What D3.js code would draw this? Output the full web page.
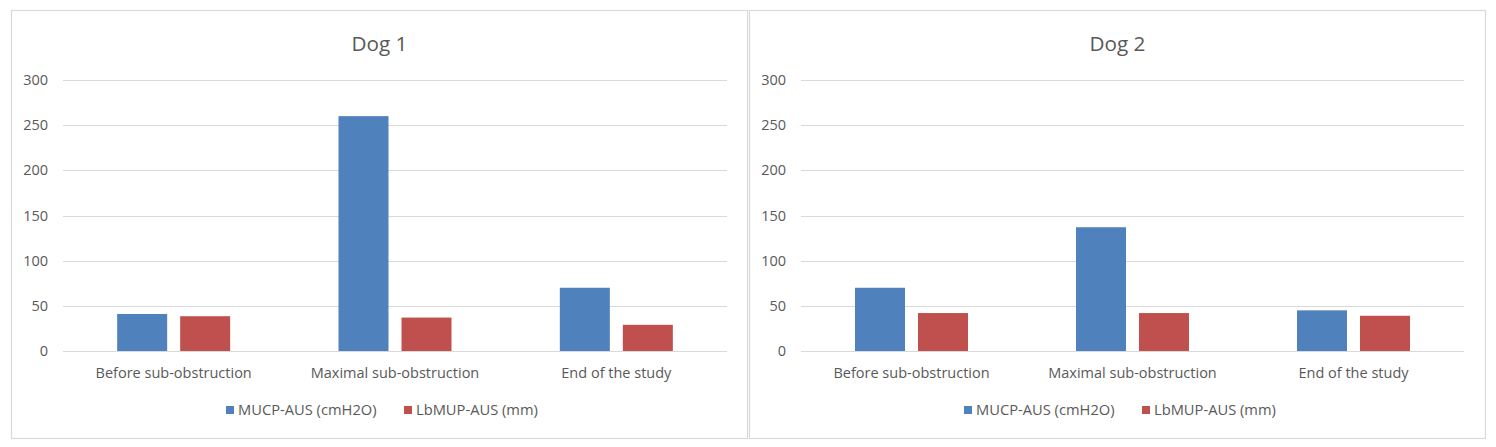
<!DOCTYPE html>
<html>
<head>
<meta charset="utf-8">
<script src="https://cdn.jsdelivr.net/npm/d3@7"></script>
<style>
  body { margin: 0; background: #fff; }
  text { font-family: "Open Sans", "Noto Sans", sans-serif; fill: #595959; }
</style>
</head>
<body>
<div id="chart"></div>
<script>
// data
const categories = ["Before sub-obstruction", "Maximal sub-obstruction", "End of the study"];
const seriesNames = ["MUCP-AUS (cmH2O)", "LbMUP-AUS (mm)"];
const seriesColors = ["#4f81bd", "#c0504d"];
const yTicks = [0, 50, 100, 150, 200, 250, 300];

const dog1Mucp = [41, 260, 70];
const dog1Lbmup = [38.5, 37, 29];
const dog2Mucp = [70, 137, 45];
const dog2Lbmup = [42, 42, 39];

const panels = [
  { title: "Dog 1", series: [dog1Mucp, dog1Lbmup], x0: 11, x1: 748, plotL: 63, plotR: 727 },
  { title: "Dog 2", series: [dog2Mucp, dog2Lbmup], x0: 749, x1: 1486, plotL: 801, plotR: 1464 }
];

const W = 1496, H = 447;
const plotTop = 80, plotBottom = 351;
const labelSize = "14.5px";

const svg = d3.select("#chart").append("svg")
  .attr("width", W)
  .attr("height", H);

const y = d3.scaleLinear().domain([0, 300]).range([plotBottom, plotTop]);

panels.forEach(function (p) {
  const g = svg.append("g");

  // frame
  g.append("rect")
    .attr("x", p.x0 + 0.5)
    .attr("y", 10.5)
    .attr("width", p.x1 - p.x0 - 1)
    .attr("height", 428)
    .attr("fill", "#fff")
    .attr("stroke", "#d9d9d9")
    .attr("stroke-width", 1.2);

  // title
  g.append("text")
    .attr("x", (p.x0 + p.x1) / 2)
    .attr("y", 51)
    .attr("text-anchor", "middle")
    .style("font-size", "20.7px")
    .text(p.title);

  // gridlines
  g.append("g")
    .selectAll("line")
    .data(yTicks)
    .join("line")
    .attr("x1", p.plotL)
    .attr("x2", p.plotR)
    .attr("y1", d => Math.round(y(d)) + 0.5)
    .attr("y2", d => Math.round(y(d)) + 0.5)
    .attr("stroke", "#d9d9d9")
    .attr("stroke-width", 1);

  // y axis labels
  const yAxis = g.append("g")
    .attr("transform", "translate(" + p.plotL + ",0)")
    .call(d3.axisLeft(y).tickValues(yTicks).tickSize(0).tickPadding(15));
  yAxis.select(".domain").remove();
  yAxis.selectAll("text")
    .style("font-size", labelSize)
    .style("font-family", null)
    .attr("fill", "#595959");

  // x scales
  const x = d3.scaleBand().domain(categories).range([p.plotL, p.plotR]).paddingInner(0).paddingOuter(0);
  const barW = 50, gap = 13;

  seriesNames.forEach(function (s, si) {
    g.append("g")
      .selectAll("rect")
      .data(categories.map((c, i) => ({ c: c, v: p.series[si][i] })))
      .join("rect")
      .attr("x", d => x(d.c) + x.bandwidth() / 2 + (si === 0 ? -(barW + gap / 2) : gap / 2))
      .attr("y", d => y(d.v))
      .attr("width", barW)
      .attr("height", d => y(0) - y(d.v))
      .attr("fill", seriesColors[si]);
  });

  // category labels
  const xAxis = g.append("g")
    .attr("transform", "translate(0," + plotBottom + ")")
    .call(d3.axisBottom(x).tickSize(0).tickPadding(17));
  xAxis.select(".domain").remove();
  xAxis.selectAll("text")
    .style("font-size", labelSize)
    .style("font-family", null)
    .attr("fill", "#595959");

  // legend
  const lx = p.x0 + 215;
  const leg = g.append("g").attr("transform", "translate(" + lx + ",410)");
  const offsets = [0, 178];
  seriesNames.forEach(function (s, si) {
    leg.append("rect")
      .attr("x", offsets[si])
      .attr("y", -4)
      .attr("width", 8)
      .attr("height", 8)
      .attr("fill", seriesColors[si]);
    leg.append("text")
      .attr("x", offsets[si] + 12)
      .attr("y", 0)
      .attr("dy", "0.35em")
      .style("font-size", "14.7px")
      .text(s);
  });
});
</script>
</body>
</html>
